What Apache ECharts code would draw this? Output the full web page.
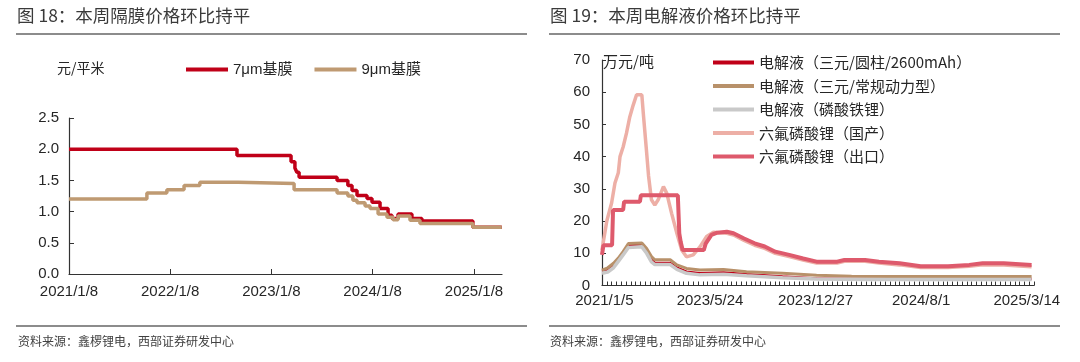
<!DOCTYPE html>
<html>
<head>
<meta charset="utf-8">
<script src="https://cdn.jsdelivr.net/npm/echarts@6/dist/echarts.min.js"></script>
<style>
html,body{margin:0;padding:0;background:#fff;}
#c{width:1080px;height:362px;}
</style>
</head>
<body>
<div id="c"></div>
<script>
// ---------- Left chart data (change points, weekly step prices, 元/平米) ----------
const leftTickLabels = ['2021/1/8','2022/1/8','2023/1/8','2024/1/8','2025/1/8'];
const leftRange = ['2021/1/8','2025/4/19'];
const sep7 = [
  ['2021/1/8',2.0],['2022/9/6',1.9],['2023/3/20',1.8],['2023/4/3',1.7],['2023/4/10',1.63],
  ['2023/4/18',1.55],['2023/9/2',1.5],['2023/10/11',1.42],['2023/10/26',1.34],['2023/11/13',1.26],
  ['2023/12/19',1.21],['2024/1/6',1.15],['2024/2/4',1.05],['2024/3/4',0.94],['2024/3/18',0.89],
  ['2024/4/9',0.96],['2024/5/29',0.89],['2024/7/4',0.85],['2025/1/4',0.75],['2025/4/18',0.75]
];
const sep9 = [
  ['2021/1/8',1.2],['2021/10/16',1.3],['2021/12/27',1.35],['2022/2/27',1.42],['2022/4/25',1.47],
  ['2022/9/10',1.45],['2023/3/31',1.35],['2023/9/2',1.3],['2023/10/11',1.25],['2023/10/29',1.18],
  ['2023/11/13',1.14],['2023/12/12',1.09],['2023/12/30',1.05],['2024/1/28',0.96],['2024/2/29',0.91],
  ['2024/3/22',0.87],['2024/4/9',0.93],['2024/5/22',0.86],['2024/6/27',0.81],['2025/1/4',0.75],
  ['2025/4/18',0.75]
];

// ---------- Right chart data ([observation index, 万元/吨]) ----------
const rightTickLabels = ['2021/1/5','2023/5/24','2023/12/27','2024/8/1','2025/3/14'];
const rightTickIndex = [0.5,22.5,44.5,66.5,88.5];
const rightCount = 90;
const eCyl = [[0,4.5],[1.2,5],[2.4,6.5],[3.4,8],[4.4,10],[5.5,12.5],[8.3,12.5],[9.3,10.5],[10.3,8],[11,7],[14.2,7],[15.6,5.5],[17.6,4.3],[20.4,3.8],[25.3,4.0],[30.1,3.5],[37.6,2.8],[44.7,2.2],[55,2.0],[70,2.0],[89.5,2.0]];
const ePow = [[0,4.8],[1.2,5.5],[2.4,6.9],[3.4,8.5],[4.4,10.5],[5.5,13],[8.3,13.2],[9.3,11.5],[10.3,9],[11,8],[14.2,8],[15.6,6.4],[17.6,5.3],[20.4,4.8],[25.3,5.0],[30.1,4.3],[37.6,3.8],[44.7,3.2],[52,2.9],[60,2.8],[75,2.8],[89.5,2.8]];
const eLfp = [[0,3.8],[1.2,4.2],[2.4,5.5],[3.4,7.5],[4.4,9.5],[5.5,11.8],[8.3,12],[9.3,10],[10.3,7.3],[11,6.5],[14.2,6.5],[15.6,5],[17.6,3.8],[20.4,3.3],[25.3,3.5],[30.1,3.0],[37.6,2.4],[44.7,2.0],[55,1.9],[70,1.9],[89.5,1.9]];
const lipfDom = [[0,11],[1,20],[2,25.6],[2.7,31.8],[3.4,35],[3.75,40],[4.4,43],[5.1,47.3],[5.8,52.4],[6.5,56],[7.2,59.2],[8.3,59.2],[8.6,53.5],[9.2,43],[9.7,34],[10.3,26.6],[11,25],[11.7,26.6],[12.8,30.7],[13.5,28.6],[14.5,22.4],[15.6,16.2],[16.6,11],[17.6,8.9],[19,9.5],[20.4,12],[21.8,15.2],[23.2,16.5],[26,16.2],[27.4,15.7],[29.6,14],[31.8,12.5],[33.9,11.5],[36.1,10],[39,9],[41.9,7.9],[44.7,7],[49,7],[50.5,7.5],[54.8,7.5],[57.7,7],[62,6.4],[66.4,5.6],[72.1,5.6],[76.5,6],[79.3,6.4],[83.7,6.4],[89.5,5.8]];
const lipfExp = [[0,9.5],[0.3,12.5],[2.1,12.5],[2.3,23.4],[4.4,23.4],[4.6,26],[7.9,26],[8.1,28],[15.8,28],[16.1,16.2],[16.4,13.5],[16.8,11],[21.2,11],[21.6,13],[22.8,15.7],[24,16.4],[26,16.7],[27.4,16.2],[29.6,14.6],[31.8,13.1],[33.9,12.1],[36.1,10.5],[39,9.5],[41.9,8.4],[44.7,7.4],[49,7.4],[50.5,7.9],[54.8,7.9],[57.7,7.4],[62,6.9],[66.4,6.0],[72.1,6.0],[76.5,6.4],[79.3,6.9],[83.7,6.9],[89.5,6.4]];

// ---------- helpers ----------
function ts(s){const p=s.split('/').map(Number);return Date.UTC(p[0],p[1]-1,p[2]);}
function fmt(v){const d=new Date(v);return d.getUTCFullYear()+'/'+(d.getUTCMonth()+1)+'/'+d.getUTCDate();}
const NUM = 'Liberation Sans, Arial, sans-serif';
const CJK = '"Noto Sans CJK SC", sans-serif';
const axisCol = '#333333';
const textCol = '#262626';
const leftTickTs = leftTickLabels.map(ts);

const chart = echarts.init(document.getElementById('c'), null, {renderer:'canvas'});
chart.setOption({
  animation:false,
  backgroundColor:'#fff',
  graphic:[
    {type:'text',left:17,top:7,style:{text:'图 18：本周隔膜价格环比持平',font:'17.5px '+CJK,fill:'#3a3a3a'}},
    {type:'text',left:550,top:7,style:{text:'图 19：本周电解液价格环比持平',font:'17.5px '+CJK,fill:'#3a3a3a'}},
    {type:'rect',shape:{x:16,y:33,width:511,height:2},style:{fill:'#8c8c8c'}},
    {type:'rect',shape:{x:549,y:33,width:511,height:2},style:{fill:'#8c8c8c'}},
    {type:'rect',shape:{x:16,y:325,width:511,height:2},style:{fill:'#8c8c8c'}},
    {type:'rect',shape:{x:549,y:325,width:511,height:2},style:{fill:'#8c8c8c'}},
    {type:'text',left:18,top:335,style:{text:'资料来源：鑫椤锂电，西部证券研发中心',font:'12px '+CJK,fill:'#404040'}},
    {type:'text',left:550,top:335,style:{text:'资料来源：鑫椤锂电，西部证券研发中心',font:'12px '+CJK,fill:'#404040'}},
    {type:'text',left:57,top:61,style:{text:'元/平米',font:'14px '+CJK,fill:textCol}},
    {type:'text',left:603,top:54,style:{text:'万元/吨',font:'15px '+CJK,fill:textCol}}
  ],
  legend:[
    {left:181,top:57,orient:'horizontal',icon:'rect',itemWidth:42,itemHeight:4,itemGap:22,
     textStyle:{fontSize:15,fontFamily:NUM+', '+CJK,color:textCol},
     data:['7μm基膜','9μm基膜']},
    {left:708,top:50,orient:'vertical',icon:'rect',itemWidth:41,itemHeight:4,itemGap:8.5,
     textStyle:{fontSize:15,fontFamily:CJK,color:textCol},
     data:['电解液（三元/圆柱/2600mAh）','电解液（三元/常规动力型）','电解液（磷酸铁锂）','六氟磷酸锂（国产）','六氟磷酸锂（出口）']}
  ],
  grid:[
    {left:69,right:578,top:118,bottom:88},
    {left:602,right:46,top:60,bottom:76.5}
  ],
  xAxis:[
    {type:'value',gridIndex:0,min:ts(leftRange[0]),max:ts(leftRange[1]),
     axisLine:{lineStyle:{color:axisCol,width:1.2}},
     axisTick:{show:true,inside:true,length:5,customValues:leftTickTs,lineStyle:{color:axisCol}},
     axisLabel:{customValues:leftTickTs,formatter:fmt,fontSize:15,fontFamily:NUM,color:textCol,margin:10,hideOverlap:false},
     splitLine:{show:false}},
    {type:'value',gridIndex:1,position:'bottom',min:0,max:rightCount,
     axisLine:{lineStyle:{color:axisCol,width:1.2}},
     axisTick:{show:false},
     axisLabel:{customValues:rightTickIndex,formatter:function(v){const k=rightTickIndex.indexOf(v);return k>=0?rightTickLabels[k]:'';},fontSize:15,fontFamily:NUM,color:textCol,margin:8,hideOverlap:false},
     splitLine:{show:false}},
    {type:'value',gridIndex:1,position:'bottom',offset:0,min:0,max:rightCount,interval:1,
     axisLine:{show:false},
     axisTick:{show:true,inside:true,length:4,lineStyle:{color:axisCol,width:1}},
     axisLabel:{show:false},
     splitLine:{show:false}}
  ],
  yAxis:[
    {type:'value',gridIndex:0,min:0,max:2.5,interval:0.5,
     axisLine:{show:true,lineStyle:{color:axisCol,width:1.2}},
     axisTick:{show:true,inside:true,length:5,lineStyle:{color:axisCol}},
     axisLabel:{formatter:function(v){return v.toFixed(1);},fontSize:15,fontFamily:NUM,color:textCol,margin:10},
     splitLine:{show:false}},
    {type:'value',gridIndex:1,min:0,max:70,interval:10,
     axisLine:{show:true,lineStyle:{color:axisCol,width:1.2}},
     axisTick:{show:true,inside:true,length:4,lineStyle:{color:axisCol}},
     axisLabel:{fontSize:15,fontFamily:NUM,color:textCol,margin:12},
     splitLine:{show:false}}
  ],
  series:[
    {name:'7μm基膜',type:'line',xAxisIndex:0,yAxisIndex:0,step:'end',showSymbol:false,
     data:sep7.map(d=>[ts(d[0]),d[1]]),lineStyle:{color:'#C00018',width:3.5},itemStyle:{color:'#C00018'}},
    {name:'9μm基膜',type:'line',xAxisIndex:0,yAxisIndex:0,step:'end',showSymbol:false,
     data:sep9.map(d=>[ts(d[0]),d[1]]),lineStyle:{color:'#BF9A72',width:3.5},itemStyle:{color:'#BF9A72'}},
    {name:'电解液（三元/圆柱/2600mAh）',type:'line',xAxisIndex:1,yAxisIndex:1,showSymbol:false,
     data:eCyl,lineStyle:{color:'#C00018',width:2.5},itemStyle:{color:'#C00018'}},
    {name:'电解液（三元/常规动力型）',type:'line',xAxisIndex:1,yAxisIndex:1,showSymbol:false,
     data:ePow,lineStyle:{color:'#B8916A',width:3},itemStyle:{color:'#B8916A'}},
    {name:'电解液（磷酸铁锂）',type:'line',xAxisIndex:1,yAxisIndex:1,showSymbol:false,
     data:eLfp,lineStyle:{color:'#C9C9C9',width:3.5},itemStyle:{color:'#C9C9C9'}},
    {name:'六氟磷酸锂（国产）',type:'line',xAxisIndex:1,yAxisIndex:1,showSymbol:false,
     data:lipfDom,lineStyle:{color:'#EDAFA6',width:3.5},itemStyle:{color:'#EDAFA6'}},
    {name:'六氟磷酸锂（出口）',type:'line',xAxisIndex:1,yAxisIndex:1,showSymbol:false,
     data:lipfExp,lineStyle:{color:'#DE5A6C',width:4},itemStyle:{color:'#DE5A6C'}}
  ]
});
</script>
</body>
</html>
